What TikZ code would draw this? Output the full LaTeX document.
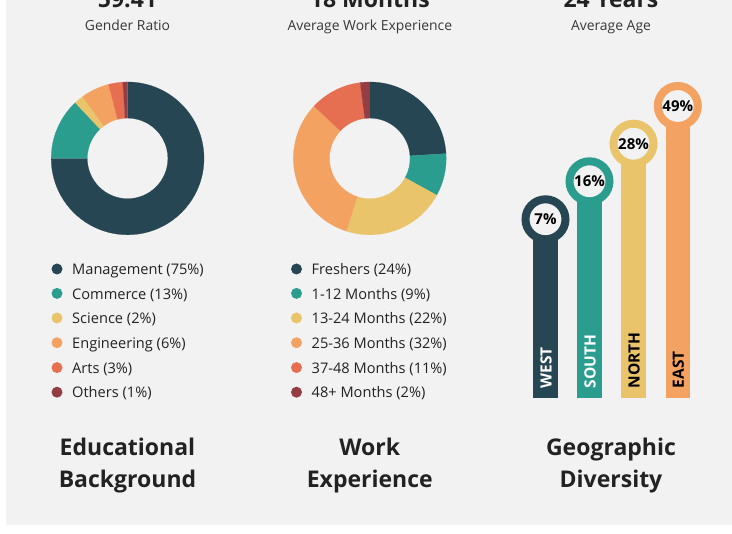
\documentclass[tikz,border=0pt]{standalone}
\usepackage{fontspec}
\setmainfont{Open Sans}
\definecolor{cA}{HTML}{264653}
\definecolor{cB}{HTML}{2A9D8F}
\definecolor{cC}{HTML}{E9C46A}
\definecolor{cD}{HTML}{F4A261}
\definecolor{cE}{HTML}{E76F51}
\definecolor{cF}{HTML}{943D42}
\definecolor{bgc}{HTML}{F2F2F2}
\definecolor{ink}{HTML}{222222}
\tikzset{
  x=1pt,y=-1pt,
  bigtext/.style={font=\fontsize{23}{26}\selectfont\bfseries,text=ink,anchor=base,inner sep=0pt},
  subtext/.style={font=\fontsize{13.9}{16}\selectfont,text=ink!90,anchor=base,inner sep=0pt},
  headtext/.style={font=\fontsize{23}{26}\selectfont\bfseries,text=ink,anchor=base,inner sep=0pt},
  legtext/.style={font=\fontsize{14.6}{16}\selectfont,text=ink,anchor=base west,inner sep=0pt},
  legdot/.style={circle,inner sep=0pt,minimum size=11pt},
  pcttext/.style={font=\fontsize{15}{16}\selectfont\bfseries,text=black,anchor=center,inner sep=0pt},
  bartext/.style={font=\fontsize{15.5}{16}\selectfont\bfseries,rotate=90,anchor=base west,inner sep=0pt},
}
% centre x, start %, end %, colour
\newcommand{\donutslice}[4]{%
  \pgfmathsetmacro{\aS}{-90+3.6*#2}\pgfmathsetmacro{\aE}{-90+3.6*#3}%
  \fill[#4,draw=#4,line width=0.2pt] (#1,158.4) ++(\aS:76.4) arc[start angle=\aS,end angle=\aE,radius=76.4]
    -- ({#1+40.3*cos(\aE)},{158.4+40.3*sin(\aE)}) arc[start angle=\aE,end angle=\aS,radius=40.3] -- cycle;}
% name, centre x, circle y, colour, percent, label, label colour
\newcommand{\lollipop}[7]{%
  \fill[#4] (#2-12.2,#3) rectangle (#2+12.2,398.3);
  \node[circle,draw=#4,fill=bgc,line width=8pt,minimum size=40pt,inner sep=0pt] (ring#1) at (#2,#3) {};
  \node[pcttext] (pct#1) at (ring#1.center) {#5};
  \node[bartext,text=#7] (lab#1) at (#2+6,388.5) {#6};}
% name, dot x, y, colour, text
\newcommand{\legrow}[5]{%
  \node[legdot,fill=#4] (dot#1) at (#2,#3) {};
  \node[legtext] (txt#1) at (#2+15,#3+5.8) {#5};}
\begin{document}
\begin{tikzpicture}
\useasboundingbox (0,0) rectangle (732,534);
\clip (0,0) rectangle (732,534);
\fill[bgc] (6,0) rectangle (732,525);
% column 1
\node[bigtext] (n1) at (127.5,7.5) {59.41};
\node[subtext] (s1) at (127.5,30.5) {Gender Ratio};
\donutslice{127.6}{0}{75}{cA}
\donutslice{127.6}{75}{88}{cB}
\donutslice{127.6}{88}{90}{cC}
\donutslice{127.6}{90}{96}{cD}
\donutslice{127.6}{96}{99}{cE}
\donutslice{127.6}{99}{100}{cF}
\legrow{a1}{57}{269}{cA}{Management (75\%)}
\legrow{a2}{57}{293.4}{cB}{Commerce (13\%)}
\legrow{a3}{57}{318}{cC}{Science (2\%)}
\legrow{a4}{57}{342.7}{cD}{Engineering (6\%)}
\legrow{a5}{57}{367.6}{cE}{Arts (3\%)}
\legrow{a6}{57}{392.2}{cF}{Others (1\%)}
\node[headtext] (h1a) at (127.5,455.5) {Educational};
\node[headtext] (h1b) at (127.5,487.5) {Background};
% column 2
\node[bigtext] (n2) at (369.8,7.5) {18 Months};
\node[subtext] (s2) at (369.8,30.5) {Average Work Experience};
\donutslice{369.8}{0}{24}{cA}
\donutslice{369.8}{24}{33}{cB}
\donutslice{369.8}{33}{55}{cC}
\donutslice{369.8}{55}{87}{cD}
\donutslice{369.8}{87}{98}{cE}
\donutslice{369.8}{98}{100}{cF}
\legrow{b1}{296.5}{269}{cA}{Freshers (24\%)}
\legrow{b2}{296.5}{293.4}{cB}{1-12 Months (9\%)}
\legrow{b3}{296.5}{318}{cC}{13-24 Months (22\%)}
\legrow{b4}{296.5}{342.7}{cD}{25-36 Months (32\%)}
\legrow{b5}{296.5}{367.6}{cE}{37-48 Months (11\%)}
\legrow{b6}{296.5}{392.2}{cF}{48+ Months (2\%)}
\node[headtext] (h2a) at (369.8,455.5) {Work};
\node[headtext] (h2b) at (369.8,487.5) {Experience};
% column 3
\node[bigtext] (n3) at (611,7.5) {24 Years};
\node[subtext] (s3) at (611,30.5) {Average Age};
\lollipop{W}{545.5}{219.3}{cA}{7\%}{WEST}{white}
\lollipop{S}{589.5}{181.3}{cB}{16\%}{SOUTH}{white}
\lollipop{N}{633.5}{143.7}{cC}{28\%}{NORTH}{black}
\lollipop{E}{677.8}{106}{cD}{49\%}{EAST}{black}
\node[headtext] (h3a) at (611,455.5) {Geographic};
\node[headtext] (h3b) at (611,487.5) {Diversity};
\end{tikzpicture}
\end{document}
